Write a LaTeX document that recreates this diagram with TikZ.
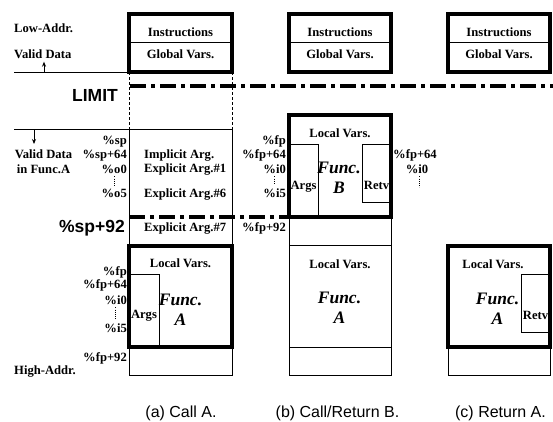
\documentclass[tikz,border=0pt]{standalone}
\usepackage{fontspec}
\setmainfont{Liberation Serif}
\setsansfont{Liberation Sans}
\usetikzlibrary{arrows.meta, positioning}

\begin{document}
\begin{tikzpicture}[
    x=1pt, y=-1pt,
    every node/.style={font=\bfseries\fontsize{12.6}{13}\selectfont, inner sep=0pt},
    frame/.style={draw, line width=3.2pt},
    cell/.style={draw, line width=0.9pt},
    guide/.style={draw, line width=0.9pt, dash pattern=on 3pt off 2pt},
    limit/.style={line width=3.2pt, dash pattern=on 16pt off 5pt on 4pt off 5pt},
    reg/.style={anchor=base east},
    txt/.style={anchor=base},
    big/.style={font=\sffamily\bfseries\fontsize{17.5}{18}\selectfont},
    func/.style={font=\bfseries\itshape\fontsize{17.5}{20}\selectfont, align=center},
    caption/.style={font=\sffamily\fontsize{16}{18}\selectfont, anchor=base},
    arrow/.style={-{Stealth[length=5pt,width=4pt]}, line width=0.9pt},
    vdots/.style={line width=0.8pt, dash pattern=on 0.8pt off 1.4pt}
]

\useasboundingbox (0,0) rectangle (553,421);

% ── LEFT MARGIN ────────────────────────────────────────────────
\node[anchor=west] (lowaddr) at (14,28) {Low-Addr.};
\node[anchor=west] (validg) at (14,54) {Valid Data};
\node[align=center, font=\bfseries\fontsize{12.6}{15}\selectfont]
    (validf) at (43.5,162) {Valid Data\\in Func.A};
\node[anchor=west] (highaddr) at (14,372) {High-Addr.};
\node[big, anchor=east] (limit) at (118,95.5) {LIMIT};
\node[big, anchor=base east] (sp92) at (125,232) {\%sp+92};

\coordinate (upfoot) at (44,72);
\coordinate (downfoot) at (34,129);
\coordinate (downtip) at (34,144);

\draw[cell] (14,72) -- (129,72);
\draw[cell] (14,129) -- (232,129);
\draw[arrow] (upfoot) -- ([yshift=-3pt]validg.south -| upfoot);
\draw[arrow] (downfoot) -- (downtip);

% === COLUMN (a) ===
\draw[guide] (129,72) -- (129,129);
\draw[guide] (232,72) -- (232,129);
\draw[cell] (129,42) -- (232,42);
\draw[frame] (129,14) rectangle (232,72);
\node[txt] (insA) at (180.5,36) {Instructions};
\node[txt] (glbA) at (180.5,58.5) {Global Vars.};

\draw[cell] (129,129) rectangle (232,246);
\node[reg] (spA)   at (127,144) {\%sp};
\node[reg] (sp64A) at (127,158) {\%sp+64};
\node[reg] (oA0)   at (127,173) {\%o0};
\node[reg] (oA5)   at (127,197) {\%o5};
\draw[vdots] ([yshift=-3pt]oA0.south) -- ([yshift=3pt]oA5.north);
\node[anchor=base west] (impA)  at (144,158) {Implicit Arg.};
\node[anchor=base west] (exp1A) at (144,172) {Explicit Arg.\#1};
\node[anchor=base west] (exp6A) at (144,197) {Explicit Arg.\#6};
\node[anchor=base west] (exp7A) at (144,231) {Explicit Arg.\#7};

\draw[cell] (129,274) rectangle (159,347);
\draw[cell] (129,347) rectangle (232,375);
\draw[frame] (129,246) rectangle (232,347);
\node[txt] (locA) at (180.5,267) {Local Vars.};
\node[txt] (argsA) at (144,318) {Args};
\node[func] (funcA) at (180.5,310) {Func.\\A};
\node[reg] (fpA)   at (127,275) {\%fp};
\node[reg] (fp64A) at (127,288) {\%fp+64};
\node[reg] (iA0)   at (127,304) {\%i0};
\node[reg] (iA5)   at (127,332) {\%i5};
\node[reg] (fp92A) at (127,361) {\%fp+92};
\draw[vdots] ([yshift=-3pt]iA0.south) -- ([yshift=3pt]iA5.north);

\node[caption] (capA) at (181,417) {(a) Call A.};

% === COLUMN (b) ===
\draw[cell] (289,42) -- (391,42);
\draw[frame] (289,14) rectangle (391,72);
\node[txt] (insB) at (340,36) {Instructions};
\node[txt] (glbB) at (340,58.5) {Global Vars.};

\draw[cell] (289,144) rectangle (318,217);
\draw[cell] (362,144) rectangle (391,202);
\draw[frame] (289,115) rectangle (391,217);
\node[txt] (locB) at (340,137) {Local Vars.};
\node[txt] (argsB) at (303.5,189) {Args};
\node[txt] (retvB) at (376.5,189) {Retv};
\node[func] (funcB) at (339,178) {Func.\\B};
\node[reg] (fpB)   at (286,144) {\%fp};
\node[reg] (fp64B) at (286,158) {\%fp+64};
\node[reg] (iB0)   at (286,173) {\%i0};
\node[reg] (iB5)   at (286,197) {\%i5};
\node[reg] (fp92B) at (286,231) {\%fp+92};
\draw[vdots] ([yshift=-3pt]iB0.south) -- ([yshift=3pt]iB5.north);
\node[anchor=base west] (rfp64B) at (393,158) {\%fp+64};
\node[txt] (riB0) at (417,173) {\%i0};
\draw[vdots] ([xshift=2pt,yshift=-3pt]riB0.south) -- ++(0,11);

\draw[cell] (289,217) rectangle (391,245);
\draw[cell] (289,245) rectangle (391,347);
\draw[cell] (289,347) rectangle (391,375);
\node[txt] (locAB) at (340,268) {Local Vars.};
\node[func] (funcAB) at (339.5,308) {Func.\\A};

\node[caption] (capB) at (337.5,417) {(b) Call/Return B.};

% === COLUMN (c) ===
\draw[cell] (448,42) -- (550,42);
\draw[frame] (448,14) rectangle (550,72);
\node[txt] (insC) at (499,36) {Instructions};
\node[txt] (glbC) at (499,58.5) {Global Vars.};

\draw[cell] (521,274) rectangle (550,332);
\draw[cell] (448,347) rectangle (550,375);
\draw[frame] (448,246) rectangle (550,347);
\node[txt] (locC) at (493,268) {Local Vars.};
\node[txt] (retvC) at (535.5,319) {Retv};
\node[func] (funcC) at (497.5,309) {Func.\\A};

\node[caption] (capC) at (500.5,417) {(c) Return A.};

% ── LIMIT LINES ────────────────────────────────────────────────
\draw[limit] (130,86) -- (553,86);
\draw[limit] (129,217) -- (289,217);

\end{tikzpicture}
\end{document}
